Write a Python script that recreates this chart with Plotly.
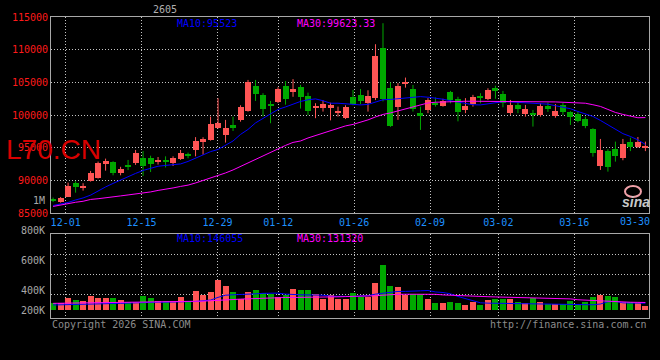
import plotly.graph_objects as go

# ---------------- data ----------------
dates = ["11-27", "11-28",
         "12-01", "12-02", "12-03", "12-04", "12-05", "12-08", "12-09", "12-10", "12-11", "12-12",
         "12-15", "12-16", "12-17", "12-18", "12-19", "12-22", "12-23", "12-24", "12-25", "12-26",
         "12-29", "12-30", "12-31",
         "01-05", "01-06", "01-07", "01-08", "01-09", "01-12", "01-13", "01-14", "01-15", "01-16",
         "01-19", "01-20", "01-21", "01-22", "01-23", "01-26", "01-27", "01-28", "01-29", "01-30",
         "02-02", "02-03", "02-04", "02-05", "02-06", "02-09", "02-10", "02-11", "02-12", "02-13",
         "02-24", "02-25", "02-26", "02-27",
         "03-02", "03-03", "03-04", "03-05", "03-06", "03-09", "03-10", "03-11", "03-12", "03-13",
         "03-16", "03-17", "03-18", "03-19", "03-20", "03-23", "03-24", "03-25", "03-26", "03-27",
         "03-30"]

open_ = [87150, 86770, 87540, 89630, 88900, 89940, 90440, 92470, 92850, 91150,
         92350, 92650, 93460, 93450, 92800, 93100, 92740, 93300, 93920, 94680,
         95860, 96200, 97990, 96950, 98500, 99270, 100690, 104460, 103090, 101600,
         102060, 104460, 103600, 104360, 103000, 101200, 101090, 101140, 100340, 99620,
         102830, 103100, 101860, 102580, 110320, 104200, 101300, 104770, 104000, 100380,
         100790, 101850, 101450, 103500, 102400, 100790, 101710, 102900, 102430, 104150,
         103300, 100290, 101560, 100180, 100290, 100030, 101460, 99880, 101500, 100500,
         100140, 99420, 97890, 92280, 94530, 94830, 93410, 95950, 95100, 95000]
high = [87400, 87480, 89680, 89890, 89590, 91470, 92900, 93350, 92950, 92100,
        93150, 94680, 94510, 93800, 93600, 93700, 93700, 94680, 94270, 96640,
        96620, 99770, 102580, 99270, 99770, 101510, 105380, 105380, 103350, 102170,
        104260, 105200, 105500, 104620, 103440, 101820, 102270, 101900, 101300, 101510,
        103850, 104000, 103800, 110840, 114050, 105000, 104900, 105740, 104600, 101300,
        102600, 102700, 102500, 103700, 102800, 102600, 103100, 103350, 104100, 104500,
        103700, 102320, 102000, 101560, 100790, 101820, 101900, 101700, 101900, 100600,
        100540, 99770, 98000, 96360, 94790, 95950, 96360, 96560, 96660, 95950]
low = [86700, 86620, 87500, 88150, 88460, 89840, 90300, 91510, 90800, 90800,
       91600, 92390, 90700, 91300, 92440, 92000, 92220, 93150, 93400, 93700,
       93950, 96100, 97950, 95800, 97580, 99000, 100530, 102170, 99800, 98760,
       101850, 101600, 102800, 101000, 100000, 99530, 100540, 99200, 99770, 99400,
       101500, 101660, 100540, 102300, 102100, 98200, 99270, 104200, 100540, 97740,
       100300, 101300, 101300, 101800, 99050, 100300, 101300, 101800, 102300, 102500,
       101200, 100030, 100300, 99770, 98250, 99770, 100500, 99600, 100000, 98500,
       98900, 98000, 93650, 91620, 91360, 92890, 93100, 94500, 95000, 94500]
close = [87050, 87390, 89180, 89020, 89200, 91100, 92700, 93040, 91100, 91730,
         92250, 94170, 92230, 92600, 93140, 92900, 93450, 94270, 93870, 96100,
         96360, 98640, 98750, 98100, 98080, 101300, 105120, 103300, 101000, 101450,
         104000, 102400, 104000, 102830, 100700, 101450, 101750, 101510, 100640, 101200,
         101660, 102170, 103000, 109100, 102400, 98400, 104500, 105030, 101000, 99920,
         102270, 101700, 102170, 102300, 100540, 101400, 102830, 102750, 103850, 103700,
         101900, 101560, 100900, 100950, 100150, 101400, 100950, 100690, 100450, 99680,
         99160, 98400, 94270, 94680, 92000, 93760, 95600, 95190, 95850, 95300]

ma10 = [86190, 86420, 86650, 87030, 87340, 87770, 88410, 89020, 89560, 90090,
        90630, 91090, 91540, 91880, 92190, 92310, 92420, 92540, 92920, 93380,
        93870, 94420, 94750, 95370, 96050, 97050, 97810, 98810, 99490, 100260,
        100870, 101250, 101640, 102090, 102350, 102480, 102200, 101820, 101820, 101710,
        101600, 101560, 101640, 102020, 102350, 102400, 102510, 102710, 102830, 102830,
        102740, 102630, 102430, 102200, 102020, 101760, 101590, 101560, 101710, 101970,
        102060, 102020, 101940, 101900, 101820, 101740, 101670, 101440, 101250, 100980,
        100560, 100180, 99800, 99190, 98500, 97740, 97170, 96740, 96210, 95523]
ma30 = [86040, 86270, 86500, 86680, 86830, 87110, 87220, 87340, 87420, 87650,
        87800, 87920, 88060, 88260, 88490, 88640, 88870, 89100, 89300, 89630,
        90010, 90400, 90700, 91160, 91620, 92160, 92690, 93260, 93810, 94330,
        94830, 95370, 95830, 96050, 96510, 96900, 97280, 97660, 97970, 98350,
        98580, 98910, 99270, 99720, 100110, 100340, 100640, 101020, 101300, 101640,
        101860, 101970, 102020, 102120, 102120, 102120, 102120, 102120, 102120, 102060,
        102060, 102060, 102060, 102060, 102060, 102060, 102060, 102020, 101970, 101940,
        101900, 101820, 101590, 101330, 100870, 100410, 100110, 99880, 99600, 99623.33]

# volume, thousand lots
volume = [134, 123, 214, 178, 159, 256, 214, 214, 214, 178,
          146, 146, 256, 214, 165, 165, 165, 238, 165, 348,
          269, 329, 549, 439, 324, 196, 324, 366, 317, 287,
          238, 275, 384, 366, 366, 287, 196, 275, 196, 196,
          306, 238, 238, 489, 836, 439, 421, 275, 287, 287,
          196, 123, 123, 146, 123, 92, 146, 92, 178, 196,
          196, 196, 152, 134, 214, 146, 104, 104, 104, 165,
          86, 146, 238, 275, 256, 238, 152, 152, 123, 73]
vol_ma10 = [100, 102, 104, 106, 110, 116, 120, 123, 126, 130,
            135, 142, 148, 150, 152, 152, 154, 156, 158, 165,
            178, 190, 240, 280, 287, 290, 292, 305, 314, 317,
            318, 300, 290, 287, 285, 283, 280, 262, 256, 252,
            256, 265, 270, 300, 320, 340, 348, 350, 348, 360,
            366, 340, 329, 306, 256, 214, 178, 140, 134, 132,
            130, 126, 124, 123, 123, 122, 120, 118, 110, 106,
            104, 104, 104, 118, 160, 165, 140, 136, 134, 134]
vol_ma30 = [130, 132, 134, 134, 135, 136, 140, 142, 144, 146,
            146, 148, 148, 150, 150, 152, 152, 153, 154, 156,
            170, 178, 190, 196, 200, 208, 214, 220, 230, 234,
            236, 238, 238, 238, 240, 240, 240, 242, 250, 254,
            256, 256, 258, 270, 280, 292, 296, 298, 300, 300,
            298, 296, 285, 278, 268, 264, 262, 260, 252, 248,
            245, 243, 240, 232, 228, 225, 218, 216, 214, 212,
            196, 188, 182, 178, 176, 160, 154, 150, 148, 146]

tick_dates = ["12-01", "12-15", "12-29", "01-12", "01-26", "02-09", "03-02", "03-16"]
last_label = "03-30"
price_ticks = [85000, 90000, 95000, 100000, 105000, 110000, 115000]
vol_labels = ["800K", "600K", "400K", "200K"]

# ---------------- styling ----------------
W, H = 660, 360
ML, MR, MT, MB = 51, 11, 17, 42
PW, PH = W - ML - MR, H - MT - MB


def fx(p):
    return (p - ML) / PW


def fy(p):
    return (H - MB - p) / PH


MONO = "DejaVu Sans Mono"
UP, DN = "#ff5555", "#00a800"
BLUE, MAG = "#0000ff", "#ff00ff"
GRAY = "#a8a8a8"

idx = list(range(len(dates)))
is_up = [c >= o for o, c in zip(open_, close)]
colors = [UP if u else DN for u in is_up]
# sina grid columns are spaced slightly wider than candles
grid_pos = [dates.index(d) * 1.0125 - 0.35 for d in tick_dates]

fig = go.Figure()

for flag, col in ((True, UP), (False, DN)):
    xs, ys = [], []
    for i in idx:
        if is_up[i] == flag:
            xs += [i, i, None]
            ys += [low[i], high[i], None]
    fig.add_trace(go.Scatter(x=xs, y=ys, mode="lines", line=dict(color=col, width=1),
                             hoverinfo="skip", xaxis="x", yaxis="y"))

MINH = 200
body_h, body_b = [], []
for o, c in zip(open_, close):
    h = abs(c - o)
    if h < MINH:
        body_b.append((o + c) / 2 - MINH / 2)
        body_h.append(MINH)
    else:
        body_b.append(min(o, c))
        body_h.append(h)

fig.add_trace(go.Bar(x=idx, y=body_h, base=body_b, width=0.8,
                     marker=dict(color=colors, line=dict(width=0)),
                     hovertext=dates, xaxis="x", yaxis="y"))
fig.add_trace(go.Scatter(x=idx, y=ma10, mode="lines", line=dict(color=BLUE, width=1),
                         xaxis="x", yaxis="y"))
fig.add_trace(go.Scatter(x=idx, y=ma30, mode="lines", line=dict(color=MAG, width=1),
                         xaxis="x", yaxis="y"))

fig.add_trace(go.Bar(x=idx, y=volume, width=0.8,
                     marker=dict(color=colors, line=dict(width=0)),
                     hovertext=dates, xaxis="x2", yaxis="y2"))
fig.add_trace(go.Scatter(x=idx, y=vol_ma10, mode="lines", line=dict(color=BLUE, width=1),
                         xaxis="x2", yaxis="y2"))
fig.add_trace(go.Scatter(x=idx, y=vol_ma30, mode="lines", line=dict(color=MAG, width=1),
                         xaxis="x2", yaxis="y2"))

grid = dict(showgrid=True, gridcolor="#c4c4c4", griddash="1px,2px", gridwidth=1,
            zeroline=False, showline=True, linecolor="#a8a8a8", linewidth=1, mirror=True,
            ticks="", fixedrange=True)

XR = [-0.28, 79.48]
vol_range = [-139, 1398]
vol_grid = [287, 653, 1019, 1385]

fig.update_layout(
    template="none",
    width=W, height=H,
    margin=dict(l=ML, r=MR, t=MT, b=MB, pad=0),
    paper_bgcolor="#000000", plot_bgcolor="#000000",
    showlegend=False, barmode="overlay", bargap=0,
    xaxis=dict(domain=[0, 1], range=XR, anchor="y", tickmode="array",
               tickvals=grid_pos, ticktext=tick_dates,
               tickfont=dict(family=MONO, size=10, color="#1e90ff"), **grid),
    xaxis2=dict(domain=[0, 1], range=XR, anchor="y2", tickmode="array",
                tickvals=grid_pos, showticklabels=False, **grid),
    yaxis=dict(domain=[0.348, 1], range=[price_ticks[0], price_ticks[-1]], anchor="x",
               tickmode="array", tickvals=price_ticks, ticktext=[str(v) for v in price_ticks],
               tickfont=dict(family=MONO, size=10, color="#ff1a1a"), **grid),
    yaxis2=dict(domain=[0, 0.278], range=vol_range, anchor="x2", tickmode="array",
                tickvals=vol_grid, showticklabels=False, **grid),
)

ann = []


def text(t, x, y, color, size=10, xanchor="left", family=MONO, yanchor="middle"):
    ann.append(dict(text=t, x=fx(x), y=fy(y), xref="paper", yref="paper", showarrow=False,
                    xanchor=xanchor, yanchor=yanchor, font=dict(family=family, size=size, color=color)))


text("2605", 165, 9.5, "#b0b0b0", 10, "center")
text("MA10:95523", 175, 23, BLUE)
text("MA30:99623.33", 295, 23, MAG)
text("MA10:146055", 175, 239, BLUE)
text("MA30:131320", 295, 239, MAG)
text("1M", 47, 200, GRAY, 10, "right")
for lab, py in zip(vol_labels, [230.7, 260, 290.3, 310.7]):
    text(lab, 47, py, GRAY, 10, "right")
text(last_label, 635, 221, "#1e90ff", 10, "center")
text("Copyright 2026 SINA.COM", 50, 324, "#8c8c8c")
text("http://finance.sina.com.cn", 649, 324, "#8c8c8c", 10, "right")
text("L70.CN", 4, 149, "#d80000", 28, "left", "Liberation Sans")
text("<b><i>sina</i></b>", 636, 202, "#c8c8c8", 14, "center", "Liberation Sans")

fig.update_layout(annotations=ann)
fig.add_shape(type="circle", xref="paper", yref="paper",
              x0=fx(625), x1=fx(641), y0=fy(197), y1=fy(186),
              line=dict(color="#f0a0a8", width=2))

fig.write_html("out.html")
